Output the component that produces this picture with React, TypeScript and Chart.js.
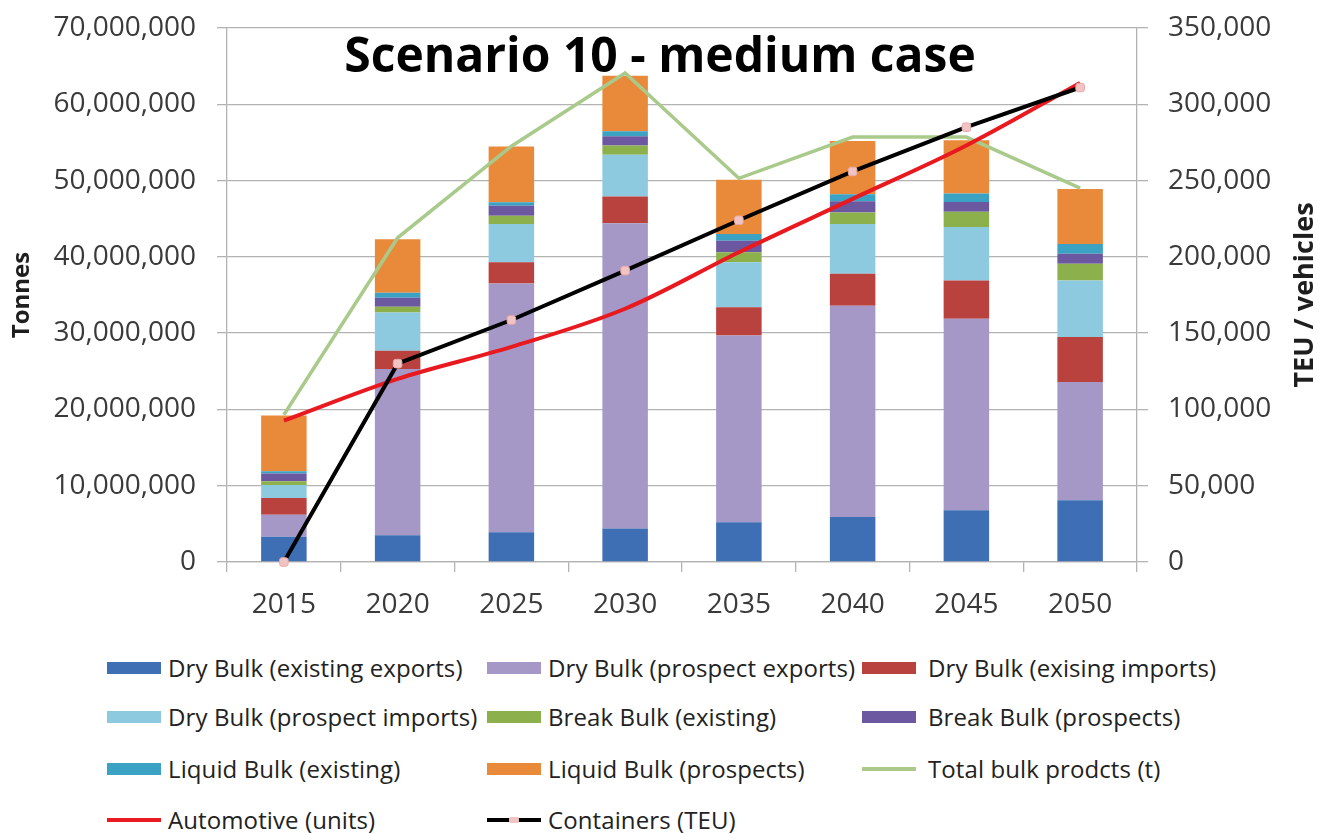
import React, { useEffect, useRef } from 'react';
import { Chart, registerables } from 'chart.js';

Chart.register(...registerables);

// ---- data ----
const years = ['2015', '2020', '2025', '2030', '2035', '2040', '2045', '2050'];

const dryBulkExistingExports = [3300000, 3500000, 3900000, 4400000, 5200000, 5900000, 6800000, 8100000];
const dryBulkProspectExports = [2900000, 21800000, 32600000, 40000000, 24500000, 27700000, 25100000, 15500000];
const dryBulkExistingImports = [2200000, 2400000, 2800000, 3500000, 3700000, 4200000, 5000000, 5900000];
const dryBulkProspectImports = [1700000, 5000000, 5000000, 5500000, 5900000, 6500000, 7000000, 7400000];
const breakBulkExisting = [500000, 750000, 1100000, 1200000, 1300000, 1500000, 2000000, 2200000];
const breakBulkProspects = [1000000, 1200000, 1300000, 1200000, 1500000, 1500000, 1300000, 1300000];
const liquidBulkExisting = [300000, 650000, 450000, 650000, 900000, 900000, 1100000, 1300000];
const liquidBulkProspects = [7300000, 7000000, 7300000, 7300000, 7100000, 7000000, 7000000, 7200000];

const totalBulkProducts = [19300000, 42500000, 54500000, 64100000, 50300000, 55700000, 55700000, 49000000];
const automotiveUnits = [92600, 120000, 141000, 166000, 203000, 238000, 273000, 314000];
const containersTeu = [0, 130000, 158600, 191000, 224000, 256000, 285000, 311000];

const chartTitle = 'Scenario 10 - medium case';
const leftAxisTitle = 'Tonnes';
const rightAxisTitle = 'TEU / vehicles';

// ---- styling ----
const FONT = '"Open Sans", "DejaVu Sans", sans-serif';
const GRID = '#b3b3b3';
const TEXT = '#3a3a3a';

const C = {
  blue: '#3e6eb3',
  lavender: '#a598c7',
  red: '#b9423f',
  lightBlue: '#8dc9df',
  green: '#8cb04b',
  purple: '#6c58a1',
  teal: '#3ba2c4',
  orange: '#e98a3b',
  totalLine: '#a9ca8b',
  autoLine: '#e8191f',
  contLine: '#000000',
  marker: '#f2c3c3',
};

type LegendItem = { label: string; color: string; kind: 'box' | 'line' | 'marker' };

const legendItems: LegendItem[] = [
  { label: 'Dry Bulk (existing exports)', color: C.blue, kind: 'box' },
  { label: 'Dry Bulk (prospect exports)', color: C.lavender, kind: 'box' },
  { label: 'Dry Bulk (exising imports)', color: C.red, kind: 'box' },
  { label: 'Dry Bulk (prospect imports)', color: C.lightBlue, kind: 'box' },
  { label: 'Break Bulk (existing)', color: C.green, kind: 'box' },
  { label: 'Break Bulk (prospects)', color: C.purple, kind: 'box' },
  { label: 'Liquid Bulk (existing)', color: C.teal, kind: 'box' },
  { label: 'Liquid Bulk (prospects)', color: C.orange, kind: 'box' },
  { label: 'Total bulk prodcts (t)', color: C.totalLine, kind: 'line' },
  { label: 'Automotive (units)', color: C.autoLine, kind: 'line' },
  { label: 'Containers (TEU)', color: C.contLine, kind: 'marker' },
];

const legendCols = [107, 487, 862];
const legendTextGap = [7, 7, 12];
const legendRows = [668, 717, 769, 820];

const textPlugin = {
  id: 'chartTexts',
  afterDraw(chart: any) {
    const ctx = chart.ctx as CanvasRenderingContext2D;
    const area = chart.chartArea;
    ctx.save();
    ctx.fillStyle = '#000';
    ctx.font = `bold 48px ${FONT}`;
    ctx.textAlign = 'center';
    ctx.textBaseline = 'alphabetic';
    ctx.fillText(chartTitle, 660, 72);

    const cy = (area.top + area.bottom) / 2;
    ctx.fillStyle = '#1e1e1e';
    ctx.textBaseline = 'middle';
    const titles: [string, number, number][] = [
      [leftAxisTitle, 22, 24],
      [rightAxisTitle, 1305, 27],
    ];
    titles.forEach(([t, x, size]) => {
      ctx.save();
      ctx.font = `bold ${size}px ${FONT}`;
      ctx.translate(x, cy);
      ctx.rotate(-Math.PI / 2);
      ctx.fillText(t, 0, 0);
      ctx.restore();
    });
    ctx.restore();
  },
};

const fmt = (v: any) => Number(v).toLocaleString('en-US');

const fitY = (width: number) => (s: any) => {
  s.width = width;
  s.paddingTop = 0;
  s.paddingBottom = 0;
};

function ChartCanvas() {
  const ref = useRef<HTMLCanvasElement | null>(null);

  useEffect(() => {
    if (!ref.current) return;
    const bar = (label: string, data: number[], color: string) => ({
      type: 'bar' as const,
      label,
      data,
      backgroundColor: color,
      borderWidth: 0,
      yAxisID: 'y',
      stack: 'bulk',
      order: 2,
      categoryPercentage: 1,
      barPercentage: 0.4,
    });

    const chart = new Chart(ref.current, {
      type: 'bar',
      data: {
        labels: years,
        datasets: [
          {
            type: 'line',
            label: 'Containers (TEU)',
            data: containersTeu,
            borderColor: C.contLine,
            borderWidth: 4,
            pointStyle: 'rectRounded',
            pointRadius: 5,
            pointBackgroundColor: C.marker,
            pointBorderColor: '#e9a9a9',
            pointBorderWidth: 1,
            yAxisID: 'y1',
            tension: 0,
            order: 0,
            clip: false,
          } as any,
          {
            type: 'line',
            label: 'Automotive (units)',
            data: automotiveUnits,
            borderColor: C.autoLine,
            borderWidth: 4,
            pointRadius: 0,
            yAxisID: 'y1',
            cubicInterpolationMode: 'monotone',
            order: 1,
            clip: false,
          } as any,
          {
            type: 'line',
            label: 'Total bulk prodcts (t)',
            data: totalBulkProducts,
            borderColor: C.totalLine,
            borderWidth: 3.5,
            pointRadius: 0,
            yAxisID: 'y',
            tension: 0,
            order: 1.5,
            clip: false,
          } as any,
          bar('Dry Bulk (existing exports)', dryBulkExistingExports, C.blue),
          bar('Dry Bulk (prospect exports)', dryBulkProspectExports, C.lavender),
          bar('Dry Bulk (exising imports)', dryBulkExistingImports, C.red),
          bar('Dry Bulk (prospect imports)', dryBulkProspectImports, C.lightBlue),
          bar('Break Bulk (existing)', breakBulkExisting, C.green),
          bar('Break Bulk (prospects)', breakBulkProspects, C.purple),
          bar('Liquid Bulk (existing)', liquidBulkExisting, C.teal),
          bar('Liquid Bulk (prospects)', liquidBulkProspects, C.orange),
        ] as any,
      },
      options: {
        responsive: false,
        animation: false,
        devicePixelRatio: 1,
        layout: { padding: { top: 28, left: 0, right: 0, bottom: 0 } },
        plugins: {
          legend: { display: false },
          title: { display: false },
          tooltip: { enabled: false },
        },
        scales: {
          x: {
            stacked: true,
            offset: true,
            grid: {
              display: true,
              offset: true,
              drawOnChartArea: false,
              drawTicks: true,
              tickLength: 10,
              color: GRID,
              lineWidth: 1.3,
            },
            border: { display: true, color: GRID, width: 1.3 },
            ticks: {
              color: TEXT,
              font: { family: FONT, size: 28 },
              padding: 16,
              maxRotation: 0,
            },
            afterFit: (s: any) => {
              s.height = 78;
              s.paddingLeft = 0;
              s.paddingRight = 0;
            },
          },
          y: {
            type: 'linear',
            position: 'left',
            stacked: true,
            min: 0,
            max: 70000000,
            grid: {
              color: GRID,
              lineWidth: 1.3,
              drawTicks: true,
              tickLength: 10,
            },
            border: { display: true, color: GRID, width: 1.3 },
            ticks: {
              stepSize: 10000000,
              color: TEXT,
              font: { family: FONT, size: 28 },
              padding: 21,
              callback: fmt,
            },
            afterFit: fitY(227),
          },
          y1: {
            type: 'linear',
            position: 'right',
            min: 0,
            max: 350000,
            grid: {
              drawOnChartArea: false,
              color: GRID,
              lineWidth: 1.3,
              drawTicks: true,
              tickLength: 11,
            },
            border: { display: true, color: GRID, width: 1.3 },
            ticks: {
              stepSize: 50000,
              color: TEXT,
              font: { family: FONT, size: 28 },
              padding: 20,
              callback: fmt,
            },
            afterFit: fitY(190),
          },
        },
      } as any,
      plugins: [textPlugin],
    });

    return () => chart.destroy();
  }, []);

  return <canvas ref={ref} width={1327} height={640} style={{ position: 'absolute', left: 0, top: 0 }} />;
}

function LegendSwatch({ item }: { item: LegendItem }) {
  if (item.kind === 'box') {
    return <div style={{ width: 54, height: 12, background: item.color, flex: 'none' }} />;
  }
  if (item.kind === 'line') {
    return <div style={{ width: 54, height: 4, background: item.color, flex: 'none' }} />;
  }
  return (
    <div style={{ position: 'relative', width: 54, height: 12, flex: 'none' }}>
      <div style={{ position: 'absolute', left: 0, top: 4, width: 54, height: 4, background: item.color }} />
      <div
        style={{
          position: 'absolute',
          left: 22,
          top: 3,
          width: 10,
          height: 6,
          borderRadius: 2,
          background: C.marker,
        }}
      />
    </div>
  );
}

function Legend() {
  return (
    <>
      {legendItems.map((item, i) => {
        const col = i % 3;
        const row = Math.floor(i / 3);
        return (
          <div
            key={item.label}
            style={{
              position: 'absolute',
              left: legendCols[col],
              top: legendRows[row] - 16,
              height: 32,
              display: 'flex',
              alignItems: 'center',
              whiteSpace: 'nowrap',
            }}
          >
            <LegendSwatch item={item} />
            <span
              style={{
                marginLeft: legendTextGap[col],
                fontFamily: FONT,
                fontSize: 24,
                letterSpacing: '0.1px',
                color: '#222',
                lineHeight: '32px',
              }}
            >
              {item.label}
            </span>
          </div>
        );
      })}
    </>
  );
}

export default function App() {
  return (
    <div
      style={{
        position: 'absolute',
        left: 0,
        top: 0,
        width: 1327,
        height: 834,
        background: '#fff',
        overflow: 'hidden',
      }}
    >
      <ChartCanvas />
      <Legend />
    </div>
  );
}
